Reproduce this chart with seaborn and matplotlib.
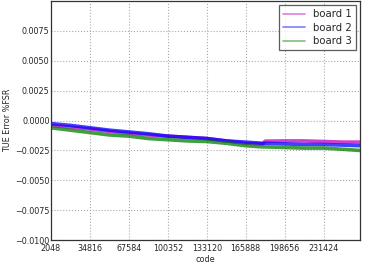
import matplotlib
matplotlib.use("Agg")
import matplotlib.pyplot as plt
import seaborn as sns
import pandas as pd

codes = [2048, 18432, 34816, 51200, 67584, 83968, 100352, 116736, 133120,
         149504, 165888, 180224, 182272, 198656, 215040, 231424, 247808, 262143]
board1 = [-0.0004, -0.00055, -0.0007, -0.0009, -0.00105, -0.0012, -0.0013, -0.0014,
          -0.0015, -0.0017, -0.0019, -0.00195, -0.00172, -0.0017, -0.0017, -0.00175,
          -0.0018, -0.0018]
board2 = [-0.00025, -0.0004, -0.0006, -0.0008, -0.00095, -0.0011, -0.0013, -0.0014,
          -0.0015, -0.0017, -0.0018, -0.0019, -0.0019, -0.00195, -0.002, -0.002,
          -0.00205, -0.0021]
board3 = [-0.0006, -0.0008, -0.001, -0.0012, -0.0013, -0.0015, -0.0016, -0.0017,
          -0.00175, -0.0019, -0.0021, -0.0022, -0.0022, -0.00225, -0.0023, -0.0023,
          -0.0024, -0.0025]
names = ["board 1", "board 2", "board 3"]
xticks = [2048, 34816, 67584, 100352, 133120, 165888, 198656, 231424]
yticks = [-0.01, -0.0075, -0.005, -0.0025, 0.0, 0.0025, 0.005, 0.0075]

rows = []
for name, vals in zip(names, [board1, board2, board3]):
    for c, v in zip(codes, vals):
        rows.append({"code": c, "val": v, "board": name})
df = pd.DataFrame(rows)

sns.set_style("white")
plt.rcParams["font.family"] = ["DejaVu Sans"]

fig = plt.figure(figsize=(3.69, 2.68), dpi=100)
ax = fig.add_axes([0.138, 0.104, 0.838, 0.892])
sns.lineplot(data=df, x="code", y="val", hue="board",
             palette={"board 1": "m", "board 2": "b", "board 3": "g"},
             linewidth=2.6, alpha=0.75, ax=ax, estimator=None, sort=True)

ax.set_xlim(2048, 262143)
ax.set_ylim(-0.01, 0.01)
ax.set_xticks(xticks)
ax.set_xticklabels([str(t) for t in xticks])
ax.set_yticks(yticks)
ax.set_yticklabels([f"{t:.4f}".replace("-", "\u2212") for t in yticks])
ax.tick_params(labelsize=5.8, length=0)
ax.tick_params(axis="x", pad=2.5)
ax.tick_params(axis="y", pad=1)
ax.grid(True, linestyle=":", color="#aaaaaa", linewidth=0.8)
for s in ax.spines.values():
    s.set_color("#333333")
    s.set_linewidth(0.9)
ax.set_xlabel("code", fontsize=5.8, labelpad=2)
ax.set_ylabel("TUE Error %FSR", fontsize=5.8, labelpad=2)

leg = ax.legend(loc="upper right", fontsize=7.3, frameon=True, fancybox=False,
                borderaxespad=0.4, handlelength=2.2, labelspacing=0.35)
leg.get_frame().set_edgecolor("#333333")
leg.get_frame().set_linewidth(0.9)
for h in leg.get_lines():
    h.set_linewidth(1.2)
    h.set_alpha(0.5)

fig.savefig("out.png", dpi=100)
